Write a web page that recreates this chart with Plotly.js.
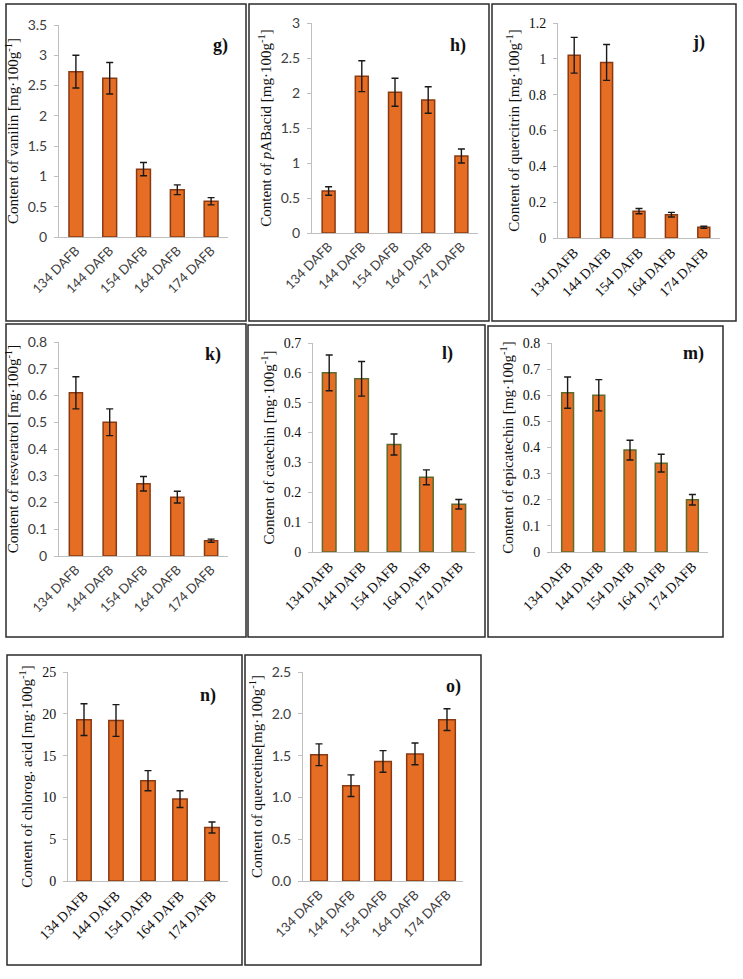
<!DOCTYPE html>
<html><head><meta charset="utf-8">
<script src="https://cdn.plot.ly/plotly-3.0.1.min.js"></script>
<style>html,body{margin:0;padding:0;background:#fff}#chart{width:743px;height:979px}</style>
</head><body><div id="chart"></div>
<script>
const categories = ["134 DAFB","144 DAFB","154 DAFB","164 DAFB","174 DAFB"];
const vanilin = [2.73, 2.62, 1.12, 0.78, 0.59];
const vanilinErr = [0.27, 0.26, 0.11, 0.08, 0.06];
const pABacid = [0.60, 2.24, 2.01, 1.90, 1.10];
const pABacidErr = [0.06, 0.22, 0.20, 0.19, 0.10];
const quercitrin = [1.02, 0.98, 0.15, 0.13, 0.06];
const quercitrinErr = [0.10, 0.10, 0.015, 0.013, 0.006];
const resveratrol = [0.61, 0.50, 0.27, 0.22, 0.057];
const resveratrolErr = [0.06, 0.05, 0.027, 0.022, 0.006];
const catechin = [0.60, 0.58, 0.36, 0.25, 0.16];
const catechinErr = [0.06, 0.058, 0.035, 0.025, 0.016];
const epicatechin = [0.61, 0.60, 0.39, 0.34, 0.20];
const epicatechinErr = [0.06, 0.06, 0.038, 0.034, 0.02];
const chlorogenic = [19.3, 19.2, 12.0, 9.8, 6.4];
const chlorogenicErr = [1.9, 1.9, 1.2, 1.0, 0.65];
const quercetine = [1.51, 1.14, 1.43, 1.52, 1.93];
const quercetineErr = [0.13, 0.13, 0.13, 0.13, 0.13];

const W = 743, H = 979;
const SANS = "Lato, Liberation Sans, sans-serif";
const SERIF = "Liberation Serif, serif";
const unit = " [mg·100g<sup>-1</sup>]";

const panels = [
  {letter:"g)", y:vanilin, e:vanilinErr, title:"Content of vanilin"+unit, range:[0,3.5], dtick:0.5, fmt:"", font:SANS,
   px:[59,228], py:[25,237], frame:[6,246,4,321], lab:[220,45], bw:0.41, edge:"#8a3a12"},
  {letter:"h)", y:pABacid, e:pABacidErr, title:"Content of <i>p</i>ABacid"+unit, range:[0,3], dtick:0.5, fmt:"", font:SANS,
   px:[312,478], py:[23,233], frame:[249,489,4,321], lab:[458,45], bw:0.39, edge:"#8a3a12"},
  {letter:"j)", y:quercitrin, e:quercitrinErr, title:"Content of quercitrin"+unit, range:[0,1.2], dtick:0.2, fmt:"", font:SERIF,
   px:[558,720], py:[23,238], frame:[492,736,4,321], lab:[698,42], bw:0.37, edge:"#8a3a12"},
  {letter:"k)", y:resveratrol, e:resveratrolErr, title:"Content of resveratrol"+unit, range:[0,0.8], dtick:0.1, fmt:"", font:SANS,
   px:[59,228], py:[342,556], frame:[6,246,324,637], lab:[213,354], bw:0.39, edge:"#8a3a12"},
  {letter:"l)", y:catechin, e:catechinErr, title:"Content of catechin"+unit, range:[0,0.7], dtick:0.1, fmt:"", font:SERIF,
   px:[313,475], py:[343,552], frame:[248,485,325,637], lab:[447,353], bw:0.42, edge:"#5f6a2c"},
  {letter:"m)", y:epicatechin, e:epicatechinErr, title:"Content of epicatechin"+unit, range:[0,0.8], dtick:0.1, fmt:"", font:SERIF,
   px:[552,708], py:[343,552], frame:[488,723,326,637], lab:[693,353], bw:0.38, edge:"#5f6a2c"},
  {letter:"n)", y:chlorogenic, e:chlorogenicErr, title:"Content of chlorog. acid"+unit, range:[0,25], dtick:5, fmt:"", font:SERIF,
   px:[68,228], py:[672,881], frame:[7,242,655,965], lab:[208,695], bw:0.45, edge:"#8a3a12"},
  {letter:"o)", y:quercetine, e:quercetineErr, title:"Content of quercetine[mg·100g<sup>-1</sup>]", range:[0,2.5], dtick:0.5, fmt:".1f", font:SANS,
   px:[303,463], py:[672,881], frame:[245,481,655,965], lab:[453,686], bw:0.52, edge:"#8a3a12"}
];

const data = [], shapes = [], annotations = [];
const layout = {
  width: W, height: H, margin:{l:0,r:0,t:0,b:0},
  paper_bgcolor:"#fff", plot_bgcolor:"rgba(0,0,0,0)", showlegend:false,
  shapes: shapes, annotations: annotations
};
panels.forEach((p, i) => {
  const n = i === 0 ? "" : String(i+1);
  const sans = p.font === SANS;
  const tickColor = sans ? "#404040" : "#111";
  data.push({
    type:"bar", x:categories, y:p.y, xaxis:"x"+n, yaxis:"y"+n, width:p.bw,
    marker:{color:"#e56d24", line:{color:p.edge, width:1.5}},
    error_y:{type:"data", array:p.e, visible:true, color:"#1a1a1a", thickness:1.4, width:3.5},
    hoverinfo:"skip"
  });
  layout["xaxis"+n] = {
    domain:[p.px[0]/W, p.px[1]/W], anchor:"y"+n, type:"category",
    showline:true, linecolor:"#bfbfbf", linewidth:1, showgrid:false, zeroline:false,
    ticks:"", tickangle:-45, tickfont:{family:p.font, size:sans?13:14, color:tickColor},
    fixedrange:true
  };
  layout["yaxis"+n] = {
    domain:[1-p.py[1]/H, 1-p.py[0]/H], anchor:"x"+n, range:p.range, dtick:p.dtick, tick0:0,
    tickformat:p.fmt, showline:true, linecolor:"#bfbfbf", linewidth:1, showgrid:false, zeroline:false,
    ticks:"outside", ticklen:4, tickcolor:"#bfbfbf", ticklabelstandoff:4,
    tickfont:{family:p.font, size:14, color:tickColor},
    title:{text:p.title, font:{family:SERIF, size:15, color:"#111"}, standoff:5},
    fixedrange:true
  };
  const f = p.frame;
  shapes.push({type:"rect", xref:"paper", yref:"paper",
    x0:f[0]/W, x1:f[1]/W, y0:1-f[3]/H, y1:1-f[2]/H,
    line:{color:"#2b2b2b", width:1.5}, fillcolor:"rgba(0,0,0,0)", layer:"below"});
  annotations.push({xref:"paper", yref:"paper", x:p.lab[0]/W, y:1-p.lab[1]/H,
    text:"<b>"+p.letter+"</b>", showarrow:false, xanchor:"center", yanchor:"middle",
    font:{family:SERIF, size:18, color:"#111"}});
});
Plotly.newPlot("chart", data, layout, {staticPlot:true});
</script></body></html>
